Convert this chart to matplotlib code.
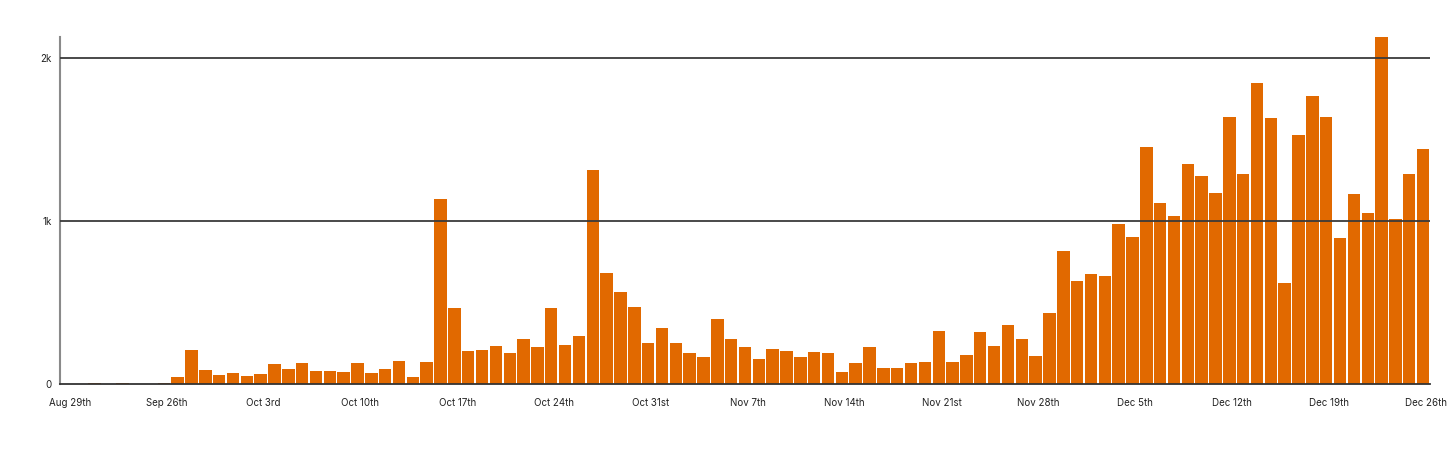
import matplotlib.pyplot as plt

# daily counts, one bar per day
counts = [3, 2, 6, 2, 6, 2, 1, 6,
          43, 211, 86, 53, 67, 51, 61, 123, 90,
          131, 80, 80, 74, 129, 67, 92, 141, 41, 135, 1133, 464, 204, 209, 233, 188, 276,
          227, 468, 237, 292, 1311, 683, 562, 474, 249, 342, 249, 188, 168, 397, 278, 225,
          155, 215, 204, 166, 198, 188, 74, 129, 225, 96, 98, 129, 137, 323, 137, 180, 321,
          231, 360, 276, 170, 434, 816, 632, 677, 663, 984, 902, 1452, 1110, 1029, 1350, 1276, 1172,
          1640, 1286, 1845, 1634, 618, 1526, 1767, 1642, 894, 1166, 1051, 2133, 1014, 1290, 1440]

# every 7th bar gets a label
date_labels = ['Aug 29th', 'Sep 26th', 'Oct 3rd', 'Oct 10th', 'Oct 17th', 'Oct 24th',
               'Oct 31st', 'Nov 7th', 'Nov 14th', 'Nov 21st', 'Nov 28th', 'Dec 5th',
               'Dec 12th', 'Dec 19th', 'Dec 26th']

y_ticks = [0, 1000, 2000]
y_labels = ['0', '1k', '2k']

plt.rcParams['font.family'] = ['Inter', 'DejaVu Sans']

fig = plt.figure(figsize=(14.5, 4.58), dpi=100)
ax = fig.add_axes([60 / 1450, 74 / 458, 1370 / 1450, 347 / 458])

xs = list(range(len(counts)))
ax.bar(xs, counts, width=0.9, color='#e16900', zorder=2)

ax.set_xlim(-0.5, len(counts) - 0.5)
ax.set_ylim(0, 2130)

# labels sit a touch right of the bar centre in the original
ax.set_xticks([x + 0.2 for x in xs[::7]])
ax.set_xticklabels(date_labels, fontsize=7, color='#222222')
ax.set_yticks(y_ticks)
ax.set_yticklabels(y_labels, fontsize=7, color='#222222')
ax.tick_params(axis='x', length=0, pad=10)
ax.tick_params(axis='y', length=0, pad=6)

# gridlines sit on top of the bars
for y in y_ticks[1:]:
    ax.axhline(y, color='#3a3a3a', linewidth=1.3, zorder=3)

for side in ['top', 'right']:
    ax.spines[side].set_visible(False)
ax.spines['left'].set_color('#8a8a8a')
ax.spines['left'].set_linewidth(1.5)
ax.spines['bottom'].set_color('#333333')
ax.spines['bottom'].set_linewidth(1.3)
ax.spines['bottom'].set_zorder(4)

fig.savefig('out.png', dpi=100, facecolor='white')
